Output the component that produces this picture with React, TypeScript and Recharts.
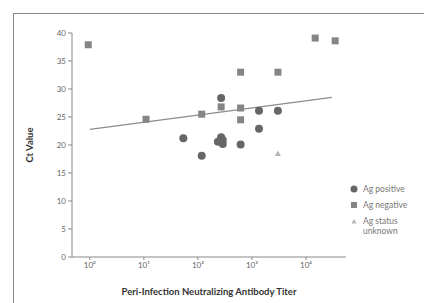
import React from "react";
import { ScatterChart, Scatter, XAxis, YAxis, ReferenceLine } from "recharts";

// x values are log10(titer)
const agPositive = [
  { x: 1.73, y: 21.2 },
  { x: 2.07, y: 18.1 },
  { x: 2.43, y: 28.4 },
  { x: 2.37, y: 20.6 },
  { x: 2.43, y: 21.4 },
  { x: 2.46, y: 20.2 },
  { x: 2.46, y: 20.9 },
  { x: 2.79, y: 20.1 },
  { x: 3.13, y: 22.9 },
  { x: 3.13, y: 26.1 },
  { x: 3.48, y: 26.1 },
];
const agNegative = [
  { x: -0.03, y: 37.9 },
  { x: 1.04, y: 24.6 },
  { x: 2.07, y: 25.5 },
  { x: 2.43, y: 26.8 },
  { x: 2.79, y: 33.0 },
  { x: 2.79, y: 26.6 },
  { x: 2.79, y: 24.5 },
  { x: 3.48, y: 33.0 },
  { x: 4.17, y: 39.1 },
  { x: 4.54, y: 38.6 },
];
const agUnknown = [{ x: 3.48, y: 18.5 }];
const trend = [
  { x: 0, y: 22.8 },
  { x: 4.48, y: 28.5 },
];
const xTicks = [0, 1, 2, 3, 4];
const xTickLabels = ["10⁰", "10¹", "10²", "10³", "10⁴"];
const yTicks = [0, 5, 10, 15, 20, 25, 30, 35, 40];
const legendItems = [
  { label: "Ag positive", kind: "circle" },
  { label: "Ag negative", kind: "square" },
  { label: "Ag status unknown", kind: "triangle" },
];

const CIRCLE = "#666666";
const SQUARE = "#858585";
const TRI = "#b5b5b5";
const FONT = "Lato, 'Open Sans', sans-serif";

const CircleShape = (p: any) => <circle cx={p.cx} cy={p.cy} r={4} fill={CIRCLE} />;
const SquareShape = (p: any) => (
  <rect x={p.cx - 3.5} y={p.cy - 3.5} width={7} height={7} fill={SQUARE} />
);
const TriShape = (p: any) => (
  <path
    d={`M${p.cx},${p.cy - 3} L${p.cx + 3},${p.cy + 2.5} L${p.cx - 3},${p.cy + 2.5} Z`}
    fill={TRI}
  />
);

const LegendBox = () => (
  <div
    style={{
      position: "absolute",
      left: 349,
      top: 184,
      width: 75,
      fontFamily: FONT,
      fontSize: 8.5,
      color: "#777",
      lineHeight: "10px",
    }}
  >
    {legendItems.map((it) => (
      <div key={it.label} style={{ display: "flex", alignItems: "flex-start", marginBottom: 6 }}>
        <svg width={10} height={10} style={{ marginRight: 4, flex: "none" }}>
          {it.kind === "circle" && <circle cx={5} cy={5} r={3.5} fill={CIRCLE} />}
          {it.kind === "square" && <rect x={2} y={2} width={6} height={6} fill={SQUARE} />}
          {it.kind === "triangle" && <path d="M5,3 L7.5,7.5 L2.5,7.5 Z" fill={TRI} />}
        </svg>
        <span style={{ width: 52 }}>{it.label}</span>
      </div>
    ))}
  </div>
);

export default function App() {
  return (
    <div
      style={{
        position: "absolute",
        left: 0,
        top: 0,
        width: 424,
        height: 303,
        background: "#fff",
      }}
    >
      <div
        style={{
          position: "absolute",
          left: 13,
          top: 13,
          right: 0,
          bottom: 0,
          borderLeft: "1px solid #8a8a8a",
          borderTop: "1px solid #8a8a8a",
        }}
      />
      <ScatterChart
        width={424}
        height={303}
        margin={{ top: 33, right: 78, bottom: 0, left: 0 }}
        style={{ position: "absolute", left: 0, top: 0 }}
      >
        <XAxis
          type="number"
          dataKey="x"
          domain={[-0.33, 4.74]}
          ticks={xTicks}
          tickFormatter={(v: number) => xTickLabels[xTicks.indexOf(v)]}
          allowDataOverflow
          height={46}
          stroke="#888"
          tickSize={3}
          tickMargin={2}
          tick={{ fontSize: 8, fill: "#666", fontFamily: FONT }}
          label={{
            value: "Peri-Infection Neutralizing Antibody Titer",
            position: "insideBottom",
            offset: 8,
            style: { fontSize: 9.5, fontWeight: 700, fill: "#333", fontFamily: FONT },
          }}
        />
        <YAxis
          type="number"
          dataKey="y"
          domain={[0, 40]}
          ticks={yTicks}
          width={72}
          stroke="#888"
          tickSize={4}
          tickMargin={2}
          tick={{ fontSize: 8, fill: "#666", fontFamily: FONT }}
          label={{
            value: "Ct Value",
            angle: -90,
            position: "insideLeft",
            offset: 30,
            style: { fontSize: 9.5, fontWeight: 700, fill: "#333", fontFamily: FONT, textAnchor: "middle" },
          }}
        />
        <ReferenceLine segment={trend} stroke="#8c8c8c" strokeWidth={1.3} />
        <Scatter name="Ag positive" data={agPositive} shape={CircleShape} isAnimationActive={false} />
        <Scatter name="Ag negative" data={agNegative} shape={SquareShape} isAnimationActive={false} />
        <Scatter name="Ag status unknown" data={agUnknown} shape={TriShape} isAnimationActive={false} />
      </ScatterChart>
      <LegendBox />
    </div>
  );
}
